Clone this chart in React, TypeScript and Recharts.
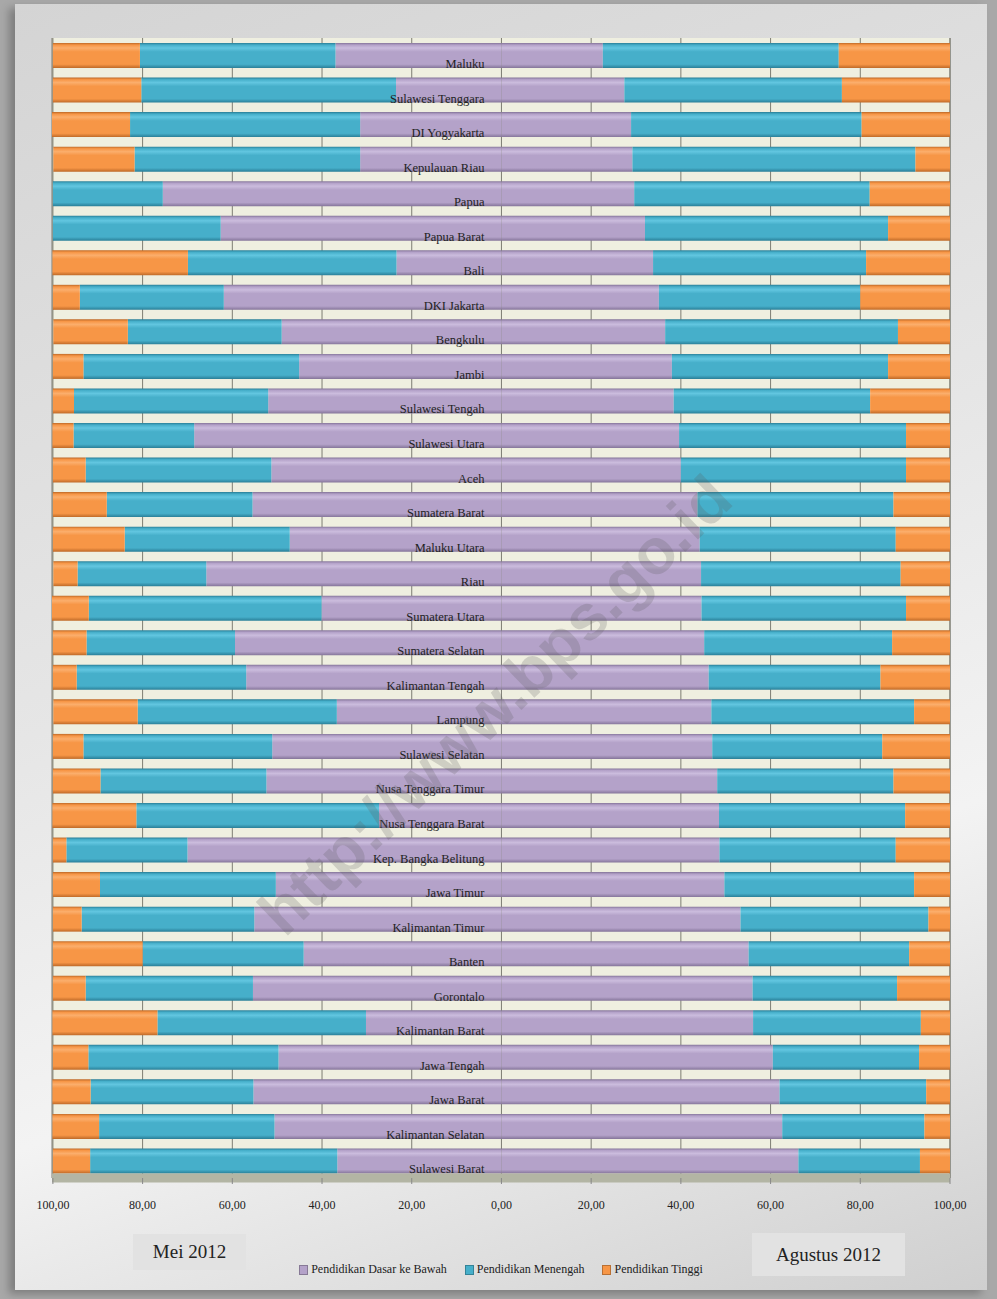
import React from 'react'
import {
  BarChart,
  Bar,
  XAxis,
  YAxis,
  CartesianGrid,
  Legend,
  LabelList,
} from 'recharts'

const provinces = [
  'Maluku', 'Sulawesi Tenggara', 'DI Yogyakarta', 'Kepulauan Riau', 'Papua',
  'Papua Barat', 'Bali', 'DKI Jakarta', 'Bengkulu', 'Jambi', 'Sulawesi Tengah',
  'Sulawesi Utara', 'Aceh', 'Sumatera Barat', 'Maluku Utara', 'Riau',
  'Sumatera Utara', 'Sumatera Selatan', 'Kalimantan Tengah', 'Lampung',
  'Sulawesi Selatan', 'Nusa Tenggara  Timur', 'Nusa Tenggara  Barat',
  'Kep. Bangka Belitung', 'Jawa Timur', 'Kalimantan Timur', 'Banten',
  'Gorontalo', 'Kalimantan Barat', 'Jawa Tengah', 'Jawa Barat',
  'Kalimantan Selatan', 'Sulawesi Barat',
]

// Mei 2012 (left side)
const meiDasar = [
  37.0, 23.5, 31.5, 31.5, 75.5, 62.6, 23.4, 61.9, 49.0, 45.1, 52.0, 68.5, 51.3,
  55.5, 47.2, 65.8, 40.1, 59.4, 56.9, 36.7, 51.1, 52.4, 27.3, 70.0, 50.3, 55.1,
  44.1, 55.4, 30.2, 49.7, 55.3, 50.6, 36.6,
]
const meiMenengah = [
  43.6, 56.8, 51.3, 50.3, 24.5, 37.4, 46.5, 32.1, 34.3, 48.1, 43.3, 26.9, 41.4,
  32.5, 36.8, 28.7, 51.9, 33.1, 37.8, 44.4, 42.1, 37.0, 54.1, 27.0, 39.2, 38.5,
  35.9, 37.3, 46.5, 42.4, 36.3, 39.1, 55.1,
]
const meiTinggi = [
  19.4, 19.7, 17.4, 18.1, 0, 0, 30.2, 6.0, 16.6, 6.8, 4.7, 4.7, 7.3, 12.0, 16.0,
  5.4, 8.2, 7.5, 5.3, 18.8, 6.8, 10.6, 18.7, 3.0, 10.5, 6.4, 20.0, 7.3, 23.4,
  7.9, 8.5, 10.4, 8.3,
]

// Agustus 2012 (right side)
const agsDasar = [
  22.6, 27.4, 28.9, 29.2, 29.6, 32.0, 33.8, 35.1, 36.5, 38.0, 38.4, 39.6, 40.0,
  43.7, 44.2, 44.5, 44.6, 45.2, 46.2, 46.8, 47.0, 48.1, 48.5, 48.6, 49.7, 53.3,
  55.1, 56.0, 56.1, 60.5, 62.0, 62.6, 66.2,
]
const agsMenengah = [
  52.6, 48.5, 51.4, 63.1, 52.5, 54.2, 47.5, 44.9, 51.9, 48.2, 43.8, 50.6, 50.2,
  43.7, 43.7, 44.5, 45.6, 41.9, 38.3, 45.2, 37.9, 39.3, 41.5, 39.3, 42.3, 41.9,
  35.8, 32.2, 37.4, 32.6, 32.7, 31.7, 27.1,
]
const agsTinggi = [
  24.8, 24.1, 19.7, 7.7, 17.9, 13.8, 18.7, 20.0, 11.6, 13.8, 17.8, 9.8, 9.8,
  12.6, 12.1, 11.0, 9.8, 12.9, 15.5, 8.0, 15.1, 12.6, 10.0, 12.1, 8.0, 4.8, 9.1,
  11.8, 6.5, 6.9, 5.3, 5.7, 6.7,
]

const xTicks = [-100, -80, -60, -40, -20, 0, 20, 40, 60, 80, 100]

const data = provinces.map((name, i) => ({
  name,
  meiDasar: -meiDasar[i],
  meiMenengah: -meiMenengah[i],
  meiTinggi: -meiTinggi[i],
  agsDasar: agsDasar[i],
  agsMenengah: agsMenengah[i],
  agsTinggi: agsTinggi[i],
}))

const PURPLE = '#b4a2c9'
const BLUE = '#46afca'
const ORANGE = '#f79646'
const SERIF = '"Liberation Serif", "DejaVu Serif", serif'

const fmt = (v: number) => Math.abs(v).toFixed(2).replace('.', ',')

const NameLabel = (props: any) => {
  const { x, y, width, height, value } = props
  const zeroX = Math.max(x, x + width)
  return (
    <text
      x={zeroX - 17}
      y={y + height}
      textAnchor="end"
      fontFamily={SERIF}
      fontSize={12.5}
      fill="#222"
    >
      {value}
    </text>
  )
}

const LegendContent = () => {
  const items = [
    { label: 'Pendidikan Dasar ke Bawah', color: PURPLE },
    { label: 'Pendidikan Menengah', color: BLUE },
    { label: 'Pendidikan Tinggi', color: ORANGE },
  ]
  return (
    <div style={{ display: 'flex', justifyContent: 'center', gap: 18, fontFamily: SERIF, fontSize: 12, color: '#222' }}>
      {items.map((it) => (
        <span key={it.label} style={{ display: 'flex', alignItems: 'center' }}>
          <span style={{ width: 7, height: 8, background: it.color, marginRight: 3, border: '1px solid rgba(0,0,0,0.25)' }} />
          {it.label}
        </span>
      ))}
    </div>
  )
}

function Grad({ id, color, light, dark }: { id: string; color: string; light: string; dark: string }) {
  return (
    <linearGradient id={id} x1="0" y1="0" x2="0" y2="1">
      <stop offset="0%" stopColor={dark} />
      <stop offset="8%" stopColor={color} />
      <stop offset="20%" stopColor={light} />
      <stop offset="35%" stopColor={color} />
      <stop offset="85%" stopColor={color} />
      <stop offset="100%" stopColor={dark} />
    </linearGradient>
  )
}

export default function App() {
  return (
    <div style={{ position: 'absolute', left: 0, top: 0, width: 997, height: 1299, background: '#a8a8a8', overflow: 'hidden' }}>
      <div
        style={{
          position: 'absolute', left: 15, top: 4, width: 972, height: 1286,
          background: 'linear-gradient(160deg, #d4d4d4 0%, #e6e6e6 45%, #f3f3f3 70%, #cfcfcf 100%)',
          boxShadow: '-6px 4px 8px rgba(0,0,0,0.25)',
        }}
      />
      <div style={{ position: 'absolute', left: 0, top: 0 }}>
        <BarChart
          width={997}
          height={1299}
          data={data}
          layout="vertical"
          stackOffset="sign"
          barSize={25}
          margin={{ top: 38, right: 47, left: 52, bottom: 76 }}
        >
          <defs>
            <Grad id="gP" color={PURPLE} light="#cbbcdd" dark="#85759a" />
            <Grad id="gB" color={BLUE} light="#62c6e0" dark="#2a7f98" />
            <Grad id="gO" color={ORANGE} light="#fbae6c" dark="#bf6a28" />
          </defs>
          <CartesianGrid horizontal={false} stroke="#7d7d72" fill="#efefe0" />
          <XAxis
            type="number"
            domain={[-100, 100]}
            ticks={xTicks}
            tickFormatter={fmt}
            axisLine={{ stroke: '#b3b5a4', strokeWidth: 9 }}
            tickLine={{ stroke: '#888' }}
            tickMargin={16}
            height={30}
            tick={{ fontFamily: SERIF, fontSize: 12, fill: '#222' }}
          />
          <YAxis type="category" dataKey="name" hide />
          <Bar dataKey="meiDasar" stackId="a" fill="url(#gP)" isAnimationActive={false}>
            <LabelList dataKey="name" content={NameLabel} />
          </Bar>
          <Bar dataKey="meiMenengah" stackId="a" fill="url(#gB)" isAnimationActive={false} />
          <Bar dataKey="meiTinggi" stackId="a" fill="url(#gO)" isAnimationActive={false} />
          <Bar dataKey="agsDasar" stackId="a" fill="url(#gP)" isAnimationActive={false} />
          <Bar dataKey="agsMenengah" stackId="a" fill="url(#gB)" isAnimationActive={false} />
          <Bar dataKey="agsTinggi" stackId="a" fill="url(#gO)" isAnimationActive={false} />
          <Legend
            content={LegendContent}
            verticalAlign="bottom"
            wrapperStyle={{ bottom: 22 }}
          />
        </BarChart>
      </div>
      <div style={{ position: 'absolute', left: 133, top: 1234, width: 113, height: 36, background: '#e2e2e2', fontFamily: SERIF, fontSize: 19, color: '#222', display: 'flex', alignItems: 'center', justifyContent: 'center' }}>
        Mei 2012
      </div>
      <div style={{ position: 'absolute', left: 752, top: 1233, width: 153, height: 43, background: '#e2e2e2', fontFamily: SERIF, fontSize: 19, color: '#222', display: 'flex', alignItems: 'center', justifyContent: 'center' }}>
        Agustus 2012
      </div>
      <div
        style={{
          position: 'absolute', left: 495, top: 705, transform: 'translate(-50%, -50%) rotate(-44deg)',
          fontFamily: 'Arial, "Liberation Sans", sans-serif', fontWeight: 'bold', fontSize: 64,
          color: 'rgba(90,90,90,0.22)', whiteSpace: 'nowrap', pointerEvents: 'none',
        }}
      >
        http://www.bps.go.id
      </div>
    </div>
  )
}
